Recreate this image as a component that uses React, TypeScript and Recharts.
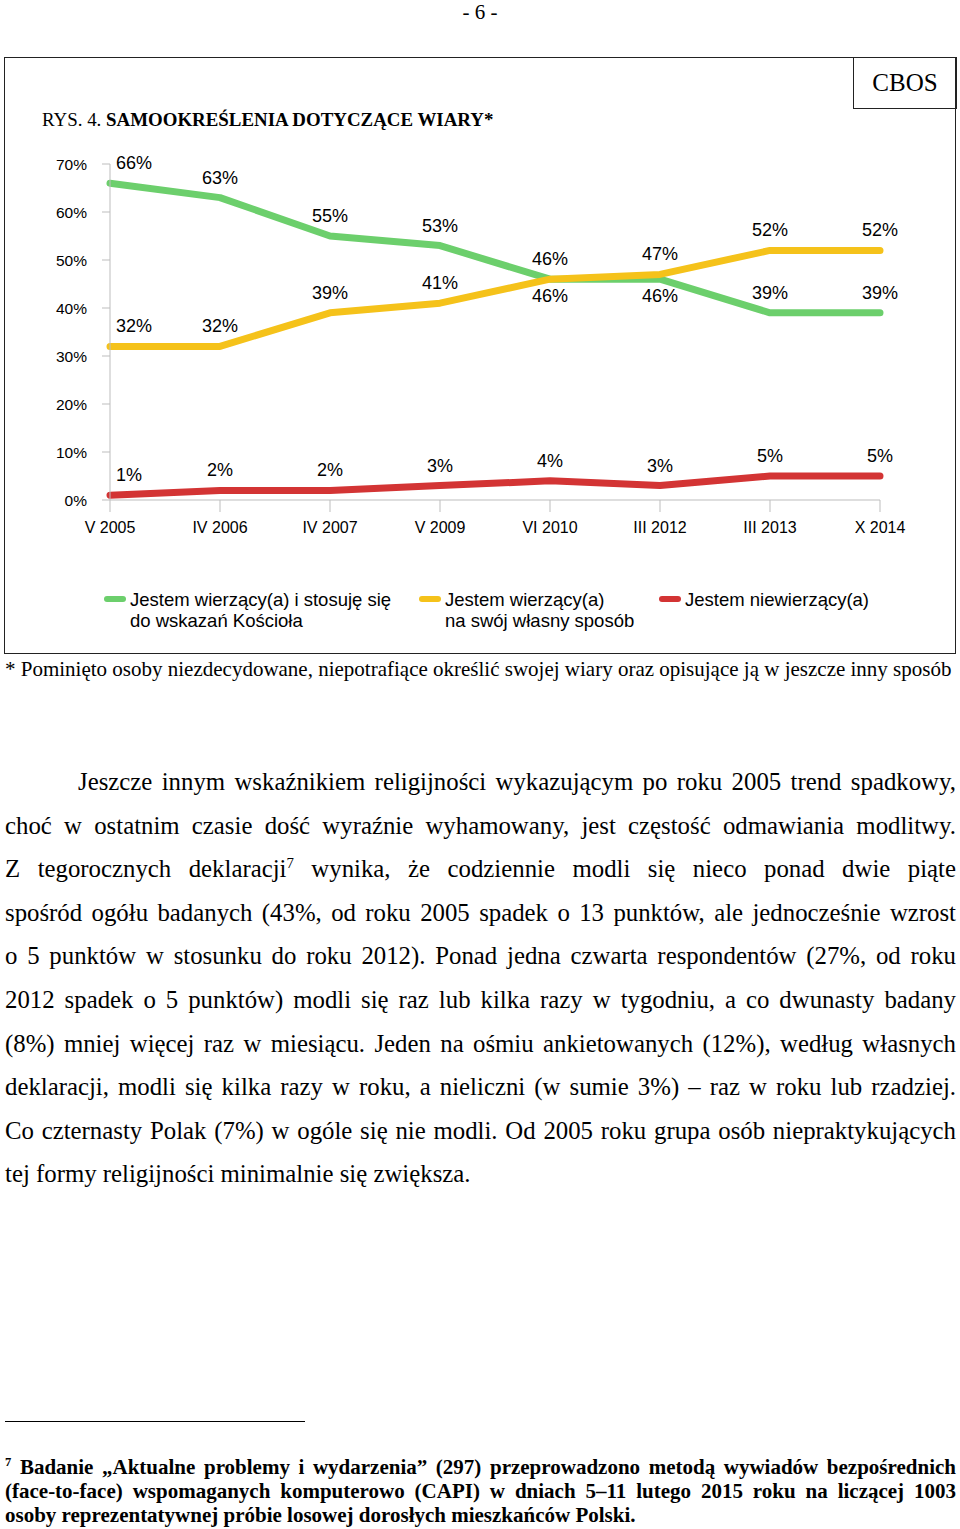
import React from 'react';
import { LineChart, Line, XAxis, YAxis } from 'recharts';

const categories = ['V 2005', 'IV 2006', 'IV 2007', 'V 2009', 'VI 2010', 'III 2012', 'III 2013', 'X 2014'];
const practicing = [66, 63, 55, 53, 46, 46, 39, 39];
const ownWay = [32, 32, 39, 41, 46, 47, 52, 52];
const nonBelievers = [1, 2, 2, 3, 4, 3, 5, 5];
// which green labels sit under the line (where it meets the yellow one)
const practicingBelow = [false, false, false, false, true, true, false, false];
const yTicks = [0, 10, 20, 30, 40, 50, 60, 70];

const seriesNames = [
  ['Jestem wierzący(a) i stosuję się', 'do wskazań Kościoła'],
  ['Jestem wierzący(a)', 'na swój własny sposób'],
  ['Jestem niewierzący(a)'],
];

const GREEN = '#6ccf6c';
const YELLOW = '#f5c21a';
const RED = '#d33434';

const paragraph = [
  'Jeszcze innym wskaźnikiem religijności wykazującym po roku 2005 trend spadkowy,',
  'choć w ostatnim czasie dość wyraźnie wyhamowany, jest częstość odmawiania modlitwy.',
  'Z tegorocznych deklaracji|7| wynika, że codziennie modli się nieco ponad dwie piąte',
  'spośród ogółu badanych (43%, od roku 2005 spadek o 13 punktów, ale jednocześnie wzrost',
  'o 5 punktów w stosunku do roku 2012). Ponad jedna czwarta respondentów (27%, od roku',
  '2012 spadek o 5 punktów) modli się raz lub kilka razy w tygodniu, a co dwunasty badany',
  '(8%) mniej więcej raz w miesiącu. Jeden na ośmiu ankietowanych (12%), według własnych',
  'deklaracji, modli się kilka razy w roku, a nieliczni (w sumie 3%) – raz w roku lub rzadziej.',
  'Co czternasty Polak (7%) w ogóle się nie modli. Od 2005 roku grupa osób niepraktykujących',
  'tej formy religijności minimalnie się zwiększa.',
];

const footnote = [
  'Badanie „Aktualne problemy i wydarzenia” (297) przeprowadzono metodą wywiadów bezpośrednich',
  '(face-to-face) wspomaganych komputerowo (CAPI) w dniach 5–11 lutego 2015 roku na liczącej 1003',
  'osoby reprezentatywnej próbie losowej dorosłych mieszkańców Polski.',
];

const data = categories.map((c, i) => ({
  name: c,
  practicing: practicing[i],
  ownWay: ownWay[i],
  nonBelievers: nonBelievers[i],
}));

const SANS = '"Liberation Sans", Arial, sans-serif';
const SERIF = '"Liberation Serif", "Times New Roman", serif';

const makeLabel = (below?: boolean[]) => (props: any) => {
  const { x, y, value, index } = props;
  const under = below ? below[index] : false;
  const first = index === 0;
  return (
    <text
      x={first ? x + 6 : x}
      y={under ? y + 23 : y - 14}
      textAnchor={first ? 'start' : 'middle'}
      fontSize={18}
      fontFamily={SANS}
      fill="#000"
    >
      {value}%
    </text>
  );
};

function JustLine({ text, last }: { text: string; last?: boolean }) {
  const parts = text.split('|');
  return (
    <div style={{ textAlign: 'justify', textAlignLast: last ? 'left' : 'justify', whiteSpace: 'nowrap' as any }}>
      {parts.map((p, i) =>
        i % 2 === 1 ? (
          <sup key={i} style={{ fontSize: '0.6em', lineHeight: 0 }}>{p}</sup>
        ) : (
          <span key={i}>{p}</span>
        )
      )}
    </div>
  );
}

function LegendItem({ color, lines, left }: { color: string; lines: string[]; left: number }) {
  return (
    <div style={{ position: 'absolute', left, top: 589 }}>
      <svg width={24} height={10} style={{ position: 'absolute', left: 0, top: 5 }}>
        <line x1={4} y1={5} x2={20} y2={5} stroke={color} strokeWidth={6} strokeLinecap="round" />
      </svg>
      <div style={{ position: 'absolute', left: 27, top: 0, fontFamily: SANS, fontSize: 18.5, lineHeight: '21px', whiteSpace: 'nowrap', color: '#000' }}>
        {lines.map((l) => (
          <div key={l}>{l}</div>
        ))}
      </div>
    </div>
  );
}

export default function App() {
  return (
    <div style={{ position: 'absolute', left: 0, top: 0, width: 960, height: 1529, background: '#fff', color: '#000', overflow: 'hidden' }}>
      <div style={{ position: 'absolute', left: 0, width: 960, top: 0, textAlign: 'center', fontFamily: SERIF, fontSize: 21, lineHeight: '24px' }}>- 6 -</div>

      {/* chart frame */}
      <div style={{ position: 'absolute', left: 4, top: 57, width: 952, height: 597, border: '1.5px solid #222', boxSizing: 'border-box' }} />
      <div style={{ position: 'absolute', left: 853, top: 57, width: 104, height: 52, border: '1.5px solid #222', boxSizing: 'border-box', fontFamily: SERIF, fontSize: 25, display: 'flex', alignItems: 'center', justifyContent: 'center' }}>CBOS</div>
      <div style={{ position: 'absolute', left: 42, top: 109, fontFamily: SERIF, fontSize: 18.9, lineHeight: '22px', whiteSpace: 'nowrap' }}>
        RYS. 4. <b>SAMOOKREŚLENIA DOTYCZĄCE WIARY*</b>
      </div>

      <div style={{ position: 'absolute', left: 0, top: 0 }}>
        <LineChart width={960} height={540} data={data} margin={{ top: 164, right: 80, left: 50, bottom: 10 }}>
          <XAxis
            dataKey="name"
            height={30}
            stroke="#bdbdbd"
            tickSize={12}
            tickMargin={10}
            interval={0}
            tick={{ fill: '#000', fontSize: 16, fontFamily: SANS }}
          />
          <YAxis
            width={60}
            domain={[0, 70]}
            ticks={yTicks}
            stroke="#bdbdbd"
            tickSize={8}
            tickMargin={15}
            tickFormatter={(v) => `${v}%`}
            tick={{ fill: '#000', fontSize: 15.5, fontFamily: SANS }}
          />
          <Line dataKey="practicing" stroke={GREEN} strokeWidth={7} strokeLinecap="round" strokeLinejoin="round" dot={false} isAnimationActive={false} label={makeLabel(practicingBelow)} />
          <Line dataKey="ownWay" stroke={YELLOW} strokeWidth={7} strokeLinecap="round" strokeLinejoin="round" dot={false} isAnimationActive={false} label={makeLabel()} />
          <Line dataKey="nonBelievers" stroke={RED} strokeWidth={7} strokeLinecap="round" strokeLinejoin="round" dot={false} isAnimationActive={false} label={makeLabel()} />
        </LineChart>
      </div>

      <LegendItem color={GREEN} lines={seriesNames[0]} left={103} />
      <LegendItem color={YELLOW} lines={seriesNames[1]} left={418} />
      <LegendItem color={RED} lines={seriesNames[2]} left={658} />

      <div style={{ position: 'absolute', left: 5, top: 657, fontFamily: SERIF, fontSize: 21, lineHeight: '24px', whiteSpace: 'nowrap' }}>
        * Pominięto osoby niezdecydowane, niepotrafiące określić swojej wiary oraz opisujące ją w jeszcze inny sposób
      </div>

      <div style={{ position: 'absolute', left: 5, top: 760, width: 951, fontFamily: SERIF, fontSize: 24.8, lineHeight: '43.6px' }}>
        {paragraph.map((l, i) => (
          <div key={i} style={{ paddingLeft: i === 0 ? 73 : 0 }}>
            <JustLine text={l} last={i === paragraph.length - 1} />
          </div>
        ))}
      </div>

      <div style={{ position: 'absolute', left: 5, top: 1421, width: 300, borderTop: '1.5px solid #000' }} />
      <div style={{ position: 'absolute', left: 5, top: 1455, width: 951, fontFamily: SERIF, fontSize: 21, fontWeight: 'bold', lineHeight: '24px' }}>
        {footnote.map((l, i) => (
          <JustLine key={i} text={i === 0 ? '|7| ' + l : l} last={i === footnote.length - 1} />
        ))}
      </div>
    </div>
  );
}
